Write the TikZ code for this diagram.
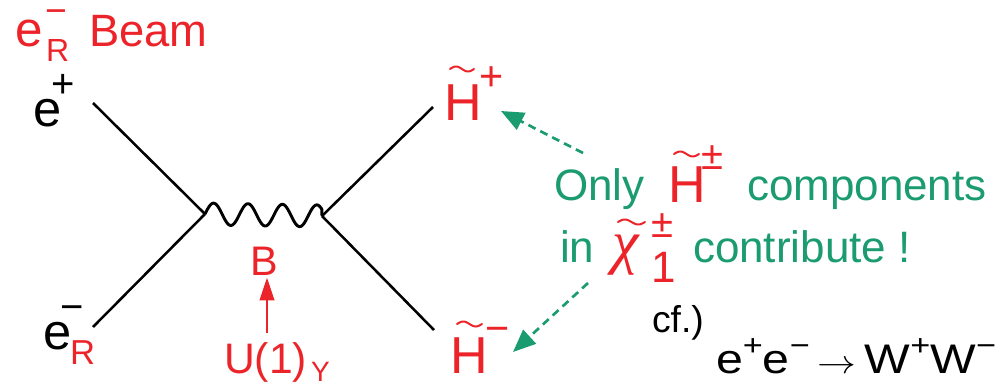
\documentclass[tikz,border=0pt]{standalone}
\usepackage{fontspec}
\setmainfont{Liberation Sans}
\newfontfamily\greekfont{Liberation Serif}
\usetikzlibrary{arrows.meta}
\definecolor{myred}{RGB}{236,36,42}
\definecolor{mygreen}{RGB}{26,155,112}
\newcommand\fs[1]{\fontsize{#1}{#1}\selectfont}
\tikzset{
  txt/.style={anchor=base west,inner sep=0pt,outer sep=0pt},
  fline/.style={line width=1.9pt,black},
  wave/.style={line width=2.2pt,black,line join=round},
  tld/.style={myred,line width=1.5pt,line cap=round},
  garrow/.style={mygreen,line width=2pt,dash pattern=on 6pt off 4pt,-{Triangle[length=17pt,width=14pt]}},
}
\begin{document}
\begin{tikzpicture}[x=0.75pt,y=-0.75pt]
\useasboundingbox (0,0) rectangle (1003,385);
% vertices and ends
\coordinate (v1) at (205,214);
\coordinate (v2) at (322,216);
\coordinate (a1) at (93,103);
\coordinate (a2) at (93,327);
\coordinate (b1) at (433,107);
\coordinate (b2) at (434,330);
\draw[fline] (a1) -- (v1);
\draw[fline] (a2) -- (v1);
\draw[fline] (v2) -- (b1);
\draw[fline] (v2) -- (b2);
\draw[wave] (v1) plot[domain=0:1,samples=150] ({205+117*\x},{214+2*\x-11*sin(3.4*360*\x)}) -- (v2);
% top-left labels
\node[txt,myred] (eT) at (16,47) {\fs{37}e};
\node[txt,myred] (eTs) at (45,24) {\fs{28}\smash{−}};
\node[txt,myred] (eTR) at (46,62) {\fs{24}R};
\node[txt,myred] (beam) at (89,47) {\fs{34}Beam};
\node[txt] (eP) at (33,126) {\fs{38}e};
\node[txt] (ePs) at (51,98) {\fs{30}+};
% bottom-left
\node[txt] (eB) at (43,349) {\fs{38}e};
\node[txt] (eBs) at (60,320) {\fs{30}−};
\node[txt,myred] (eBR) at (70,364) {\fs{26}R};
% B and U(1)
\node[txt,myred] (B) at (250,275) {\fs{31}B};
\node[txt,myred] (U) at (224,373) {\fs{32}U(1)};
\node[txt,myred] (UY) at (311,381) {\fs{21}Y};
\coordinate (uArr) at (267,333);
\draw[myred,line width=1.5pt,shorten >=2pt,-{Triangle[length=17pt,width=11pt]}] (uArr) -- (B.south -| uArr);
% H tilde plus
\node[txt,myred] (Hp) at (444,120) {\fs{39}H};
\node[txt,myred] (Hps) at (479,91) {\fs{31}+};
\draw[tld,domain=0:1,samples=30] plot ({450+24*\x},{69-2.5*sin(\x*360)});
% H tilde minus
\node[txt,myred] (Hm) at (450,373) {\fs{39}H};
\node[txt,myred] (Hms) at (485,342) {\fs{31}−};
\draw[tld,domain=0:1,samples=30] plot ({457+25*\x},{324-2.5*sin(\x*360)});
% green text
\node[txt,mygreen] (only) at (554,200) {\fs{33}Only};
\node[txt,myred] (Hg) at (668,202) {\fs{39}H};
\node[txt,myred] (Hgs) at (701,169) {\fs{30}±};
\draw[tld,domain=0:1,samples=30] plot ({674+25*\x},{154-2.5*sin(\x*360)});
\node[txt,mygreen] (comp) at (747,200) {\fs{33}components};
\node[txt,mygreen] (in) at (560,262) {\fs{33}in};
\node[txt,myred] (chi) at (612,262) {\fs{45}\greekfont\itshape χ};
\draw[tld,domain=0:1,samples=30] plot ({618+27*\x},{222-2.5*sin(\x*360)});
\node[txt,myred] (chis) at (651,237) {\fs{30}±};
\node[txt,myred] (chi1) at (651,282) {\fs{33}1};
\node[txt,mygreen] (contr) at (693,262) {\fs{33}contribute !};
% dashed arrows
\coordinate (g1) at (583,153);
\coordinate (t1) at (501,111);
\coordinate (g2) at (588,283);
\coordinate (t2) at (513,352);
\draw[garrow] (g1) -- (t1);
\draw[garrow] (g2) -- (t2);
% cf.
\node[txt] (cf) at (652,332) {\fs{28}cf.)};
\node[txt] (ww) at (716,373) {\scalebox{1.17}[1]{\fs{31}e\raisebox{0.42em}{\fs{22}+}e\raisebox{0.42em}{\fs{22}−}\,$\rightarrow$\,W\raisebox{0.42em}{\fs{22}+}W\raisebox{0.42em}{\fs{22}−}}};
\end{tikzpicture}
\end{document}
